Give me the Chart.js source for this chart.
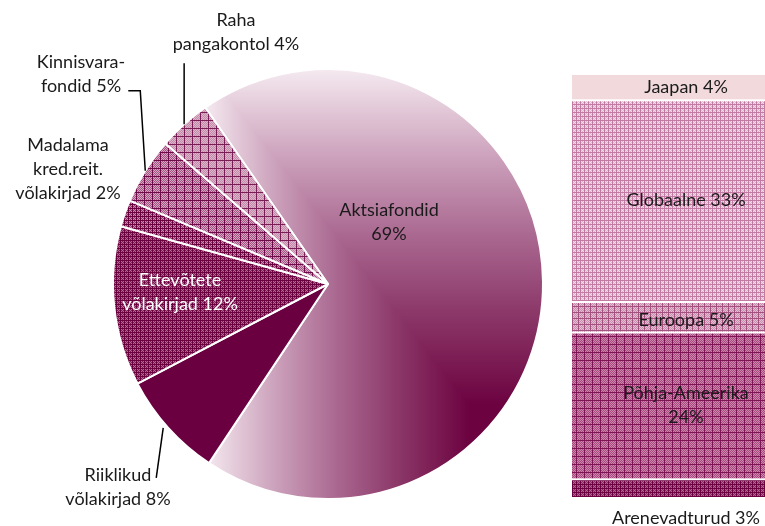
<!DOCTYPE html>
<html>
<head>
<meta charset="utf-8">
<script src="https://cdn.jsdelivr.net/npm/chart.js@4.4.0/dist/chart.umd.min.js"></script>
<style>
    html, body { margin: 0; padding: 0; background: #fff; overflow: hidden; width: 765px; height: 526px; }
    #wrap { position: relative; width: 765px; height: 526px; overflow: hidden; }
    #pieBox { position: absolute; left: 0; top: 0; width: 560px; height: 526px; }
    #barBox { position: absolute; left: 560px; top: 0; width: 250px; height: 526px; }
</style>
</head>
<body>
<div id="wrap">
    <div id="pieBox"><canvas id="pieChart"></canvas></div>
    <div id="barBox"><canvas id="barChart"></canvas></div>
</div>
<script>
// Portfolio split (pie), clockwise from the top-right edge
const pieLabels = [
    ['Aktsiafondid', '69%'],
    ['Riiklikud', 'võlakirjad 8%'],
    ['Ettevõtete', 'võlakirjad 12%'],
    ['Madalama', 'kred.reit.', 'võlakirjad 2%'],
    ['Kinnisvara-', 'fondid 5%'],
    ['Raha', 'pangakontol 4%']
];
const pieValues = [69, 8, 12, 2, 5, 4];
const pieRotation = -34.8;

// Equity funds by region (stacked bar, bottom to top)
const regionLabels = [
    ['Arenevadturud 3%'],
    ['Põhja-Ameerika', '24%'],
    ['Euroopa 5%'],
    ['Globaalne 33%'],
    ['Jaapan 4%']
];
const regionValues = [3, 24, 5, 33, 4];

const FONT = '18px Lato, "Open Sans", sans-serif';
const LINE_H = 24;

// label placement, relative to pie centre (first line)
const pieLabelPos = [[61, -74], [-210, 191], [-148, -4], [-260, -139], [-247, -222], [-92, -264]];
const pieLabelColor = ['#1a1a1a', '#1a1a1a', '#ffffff', '#1a1a1a', '#1a1a1a', '#1a1a1a'];
// leader lines, points relative to the slice mid-point on the rim
const leaderLines = {
    1: [[-5, 0], [-12, 50]],
    4: [[0, 0], [-5, -80], [-17, -80]],
    5: [[0, 0], [0, -61]]
};

function hatch(ctx, base, dot, line, step) {
    const c = document.createElement('canvas');
    c.width = step;
    c.height = step;
    const g = c.getContext('2d');
    g.fillStyle = base;
    g.fillRect(0, 0, step, step);
    g.fillStyle = dot;
    for (let y = 0; y < step; y++) {
        for (let x = 0; x < step; x++) {
            if ((x + y) % 2 === 0 && x > 0 && y > 0) g.fillRect(x, y, 1, 1);
        }
    }
    g.fillStyle = line;
    g.fillRect(0, 0, step, 1);
    g.fillRect(0, 0, 1, step);
    return ctx.createPattern(c, 'repeat');
}

const gradStops = [
    [0, [106, 0, 62]],
    [0.22, [108, 2, 64]],
    [0.45, [142, 60, 108]],
    [0.62, [171, 106, 146]],
    [0.8, [205, 163, 189]],
    [1, [245, 234, 240]]
];

function stopColor(t) {
    for (let i = 1; i < gradStops.length; i++) {
        if (t <= gradStops[i][0]) {
            const [t0, c0] = gradStops[i - 1];
            const [t1, c1] = gradStops[i];
            const f = (t - t0) / (t1 - t0);
            return c0.map((v, k) => v + (c1[k] - v) * f);
        }
    }
    return gradStops[gradStops.length - 1][1];
}

// rectangular "from corner" gradient over the big slice's bounding box
const gradCache = {};
function aktsiaFill(context) {
    const chart = context.chart;
    const a = chart.chartArea;
    if (!a) return '#a86088';
    const key = [a.left, a.top, a.width, a.height].join('x');
    if (gradCache[key]) return gradCache[key];

    const cx = (a.left + a.right) / 2;
    const cy = (a.top + a.bottom) / 2;
    const r = Math.min(a.width, a.height) / 2;
    const total = pieValues.reduce((s, v) => s + v, 0);
    const start = -Math.PI / 2 + pieRotation * Math.PI / 180;
    const end = start + 2 * Math.PI * pieValues[0] / total;
    let x0 = cx, x1 = cx, y0 = cy, y1 = cy;
    for (let i = 0; i <= 360; i++) {
        const t = start + (end - start) * i / 360;
        const x = cx + r * Math.cos(t);
        const y = cy + r * Math.sin(t);
        x0 = Math.min(x0, x); x1 = Math.max(x1, x);
        y0 = Math.min(y0, y); y1 = Math.max(y1, y);
    }

    const w = chart.canvas.width, h = chart.canvas.height;
    const off = document.createElement('canvas');
    off.width = w;
    off.height = h;
    const g = off.getContext('2d');
    const img = g.createImageData(w, h);
    for (let y = 0; y < h; y++) {
        for (let x = 0; x < w; x++) {
            let t = Math.max((x1 - x) / (x1 - x0), (y1 - y) / (y1 - y0));
            t = Math.min(1, Math.max(0, t));
            const c = stopColor(t);
            const p = (y * w + x) * 4;
            img.data[p] = c[0];
            img.data[p + 1] = c[1];
            img.data[p + 2] = c[2];
            img.data[p + 3] = 255;
        }
    }
    g.putImageData(img, 0, 0);
    gradCache[key] = chart.ctx.createPattern(off, 'no-repeat');
    return gradCache[key];
}

function drawLines(ctx, lines, x, y, color) {
    ctx.fillStyle = color;
    lines.forEach((txt, i) => ctx.fillText(txt, x, y + i * LINE_H));
}

const pieLabelPlugin = {
    id: 'pieLabels',
    afterDatasetsDraw(chart) {
        const ctx = chart.ctx;
        const arcs = chart.getDatasetMeta(0).data;
        if (!arcs.length) return;
        const cx = arcs[0].x, cy = arcs[0].y, r = arcs[0].outerRadius;
        ctx.save();
        ctx.font = FONT;
        ctx.textAlign = 'center';
        ctx.textBaseline = 'middle';

        // leader lines
        ctx.strokeStyle = '#000';
        ctx.lineWidth = 1.5;
        Object.keys(leaderLines).forEach(idx => {
            const arc = arcs[idx];
            const mid = (arc.startAngle + arc.endAngle) / 2;
            const px = cx + r * Math.cos(mid);
            const py = cy + r * Math.sin(mid);
            ctx.beginPath();
            leaderLines[idx].forEach(([dx, dy], k) => {
                if (k === 0) ctx.moveTo(px + dx, py + dy);
                else ctx.lineTo(px + dx, py + dy);
            });
            ctx.stroke();
        });

        pieLabels.forEach((lines, i) => {
            const [dx, dy] = pieLabelPos[i];
            drawLines(ctx, lines, cx + dx, cy + dy, pieLabelColor[i]);
        });
        ctx.restore();
    }
};

const barLabelPlugin = {
    id: 'barLabels',
    afterDatasetsDraw(chart) {
        const ctx = chart.ctx;
        ctx.save();
        ctx.font = FONT;
        ctx.textAlign = 'center';
        ctx.textBaseline = 'middle';
        chart.data.datasets.forEach((ds, i) => {
            const el = chart.getDatasetMeta(i).data[0];
            const lines = regionLabels[i];
            let y;
            if (i === 0) {
                y = el.base + 21; // thin segment: label sits under the bar
            } else {
                y = (el.y + el.base) / 2 - (lines.length - 1) * LINE_H / 2 + (i === 2 ? 4 : 0);
            }
            drawLines(ctx, lines, el.x, y, '#1a1a1a');
        });
        ctx.restore();
    }
};

const pieCtx = document.getElementById('pieChart').getContext('2d');
const pieFills = [
    aktsiaFill,
    '#6b0040',
    hatch(pieCtx, '#7e1c54', '#b56892', '#6a003e', 4),
    hatch(pieCtx, '#8f3369', '#c58cad', '#6a003e', 4),
    hatch(pieCtx, '#a55384', '#d4a6c0', '#6d0a48', 8),
    hatch(pieCtx, '#c28aa8', '#dcb6ca', '#7a1c55', 8)
];

new Chart(pieCtx, {
    type: 'pie',
    data: {
        labels: pieLabels.map(l => l.join(' ')),
        datasets: [{
            data: pieValues,
            backgroundColor: ctx => {
                const f = pieFills[ctx.dataIndex];
                return typeof f === 'function' ? f(ctx) : f;
            },
            borderColor: '#ffffff',
            borderWidth: 2
        }]
    },
    options: {
        responsive: true,
        maintainAspectRatio: false,
        animation: false,
        rotation: pieRotation,
        layout: { padding: { left: 112, right: 16, top: 68, bottom: 26 } },
        plugins: {
            legend: { display: false },
            tooltip: { enabled: false }
        }
    },
    plugins: [pieLabelPlugin]
});

const barCtx = document.getElementById('barChart').getContext('2d');
const regionFills = [
    hatch(barCtx, '#8a2a62', '#b0648e', '#6d0041', 4),
    hatch(barCtx, '#a84a80', '#cc86ac', '#7c1553', 8),
    hatch(barCtx, '#c88cae', '#e2c0d2', '#a3507f', 6),
    hatch(barCtx, '#e0b2cc', '#f3dfe9', '#c37aa2', 4),
    '#f2dadc'
];

new Chart(barCtx, {
    type: 'bar',
    data: {
        labels: ['Aktsiafondid'],
        datasets: regionValues.map((v, i) => ({
            label: regionLabels[i].join(' '),
            data: [v],
            backgroundColor: regionFills[i],
            borderColor: '#ffffff',
            borderWidth: { top: i === regionValues.length - 1 ? 0 : 2, bottom: 0, left: 0, right: 0 },
            borderSkipped: false,
            categoryPercentage: 1,
            barPercentage: 1
        }))
    },
    options: {
        responsive: true,
        maintainAspectRatio: false,
        animation: false,
        layout: { padding: { left: 12, right: 10, top: 75, bottom: 29 } },
        scales: {
            x: { display: false, stacked: true },
            y: { display: false, stacked: true, min: 0, max: regionValues.reduce((s, v) => s + v, 0) }
        },
        plugins: {
            legend: { display: false },
            tooltip: { enabled: false }
        }
    },
    plugins: [barLabelPlugin]
});
</script>
</body>
</html>
